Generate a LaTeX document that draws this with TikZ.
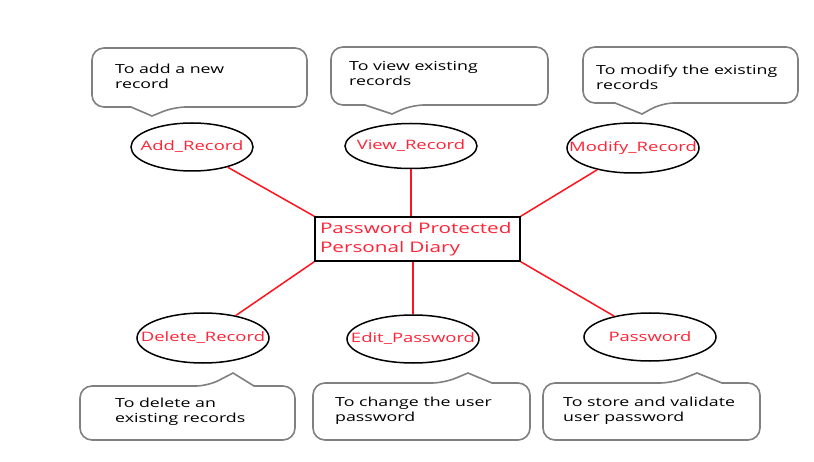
\documentclass[tikz,border=0pt]{standalone}
\usepackage{fontspec}
\setmainfont{Open Sans}[FakeStretch=1.42]
\usetikzlibrary{shapes.geometric}
\definecolor{txtred}{RGB}{255,35,55}
\definecolor{linered}{RGB}{255,20,30}
\definecolor{bubblegray}{RGB}{128,128,128}
\tikzset{
  bubble/.style={draw=bubblegray, line width=1.6pt, fill=white},
  bubbletext/.style={anchor=base west, inner sep=0pt, align=left, text=black,
    font=\fontsize{12.5}{15}\selectfont},
  usecase/.style={ellipse, draw=black, line width=1.5pt, fill=white, inner sep=0pt,
    minimum width=132pt, minimum height=48pt},
  uclabel/.style={text=txtred, inner sep=0pt, font=\fontsize{13}{15}\selectfont},
  centerbox/.style={rectangle, draw=black, line width=1.5pt, fill=white,
    minimum width=205pt, minimum height=44pt, inner xsep=5pt, text width=195pt,
    align=left, text=txtred, font=\fontsize{14.6}{19}\selectfont},
  link/.style={draw=linered, line width=1.5pt}
}
% L T R B tipx tipy baseL baseR  (pointer on the bottom edge)
\newcommand{\bubbledn}[8]{%
  \draw[bubble] (#1,{(#2+#4)/2}) [rounded corners=12pt] -- (#1,#2) -- (#3,#2) -- (#3,#4)
    -- (#8,#4) [sharp corners] -- (#5,#6) -- (#7,#4) [rounded corners=12pt] -- (#1,#4) -- cycle;}
% L T R B tipx tipy baseL baseR  (pointer on the top edge)
\newcommand{\bubbleup}[8]{%
  \draw[bubble] (#1,{(#2+#4)/2}) [rounded corners=12pt] -- (#1,#2) -- (#7,#2)
    [sharp corners] -- (#5,#6) -- (#8,#2) [rounded corners=12pt] -- (#3,#2) -- (#3,#4)
    -- (#1,#4) -- cycle;}
\begin{document}
\begin{tikzpicture}[x=1pt,y=-1pt]
\useasboundingbox (0,0) rectangle (814,462);
\fill[white] (0,0) rectangle (814,462);

% callouts
\bubbledn{92}{48}{307}{107}{152}{116}{131}{174}
\bubbledn{331}{47}{548}{105}{392}{114}{365}{412}
\bubbledn{583}{47}{798}{103}{642}{114}{615}{662}
\bubbleup{80}{386}{295}{440}{233}{373}{208}{254}
\bubbleup{313}{383}{530}{440}{468}{373}{444}{492}
\bubbleup{543}{383}{760}{440}{697}{373}{672}{722}

\node[bubbletext] (tadd) at (115,89) {To add a new\\record};
\node[bubbletext] (tview) at (349,86) {To view existing\\records};
\node[bubbletext] (tmod) at (596,90) {To modify the existing\\records};
\node[bubbletext] (tdel) at (115,422) {To delete an\\existing records};
\node[bubbletext] (tedit) at (335,421) {To change the user\\password};
\node[bubbletext] (tpwd) at (563,421) {To store and validate\\user password};

% center
\node[centerbox] (box) at (417.5,239) {Password Protected\\Personal Diary};

% use cases
\node[usecase, minimum width=122pt, label={[uclabel]center:Add\_Record}] (add) at (192,147) {};
\node[usecase, minimum height=45pt, label={[uclabel]center:View\_Record}] (view) at (411,146) {};
\node[usecase, minimum height=50pt, label={[uclabel]center:Modify\_Record}] (mod) at (633,148) {};
\node[usecase, minimum height=50pt, label={[uclabel]center:Delete\_Record}] (del) at (203,338) {};
\node[usecase, label={[uclabel]center:Edit\_Password}] (edit) at (413,339) {};
\node[usecase, label={[uclabel]center:Password}] (pwd) at (650,337) {};

% connectors
\draw[link] (add) -- (box.north west);
\draw[link] (view.south) -- (view.south |- box.north);
\draw[link] (mod) -- (box.north east);
\draw[link] (del) -- (box.south west);
\draw[link] (edit.north) -- (edit.north |- box.south);
\draw[link] (pwd) -- (box.south east);
\end{tikzpicture}
\end{document}
